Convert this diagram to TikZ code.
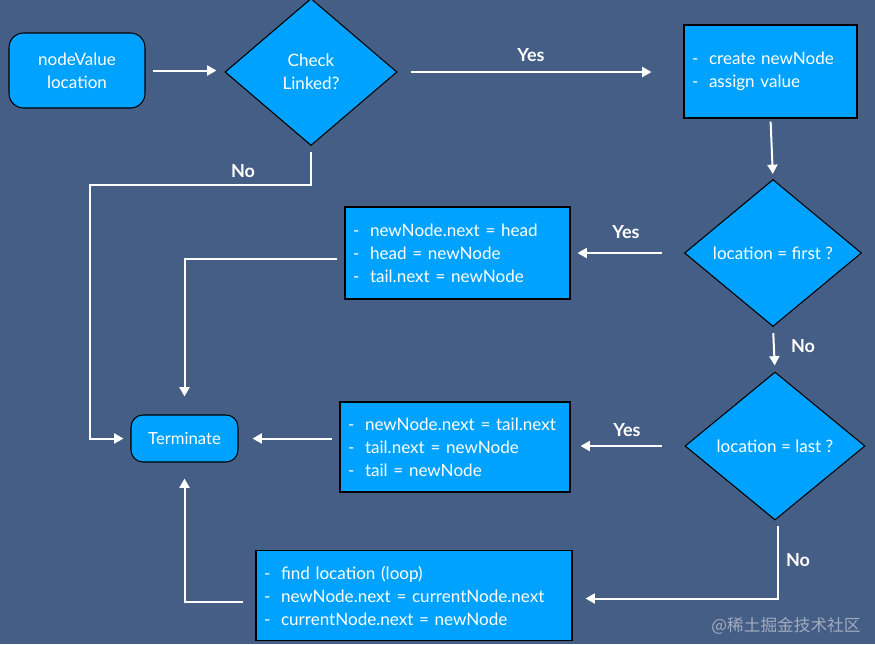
\documentclass[tikz,border=0pt]{standalone}
\usepackage{fontspec}
\setmainfont{Lato}
\newfontfamily\cjk{Noto Sans CJK SC}
\usetikzlibrary{shapes.geometric,arrows.meta}
\definecolor{bg}{RGB}{69,94,134}
\definecolor{boxblue}{RGB}{0,162,255}
\definecolor{wm}{RGB}{160,172,190}
\newcommand{\itm}{\makebox[12.75pt][l]{-}}
\begin{document}
\begin{tikzpicture}[x=0.75pt,y=-0.75pt,
  txt/.style={text=white,font=\fontsize{12.8}{17.25}\selectfont},
  startbox/.style={txt,draw=black,line width=0.8pt,fill=boxblue,rounded corners=11pt,align=center,inner sep=0pt},
  dec/.style={txt,diamond,draw=black,line width=0.8pt,fill=boxblue,align=center,inner sep=0pt},
  proc/.style={txt,rectangle,draw=black,line width=0.8pt,fill=boxblue,align=left,inner xsep=6pt,inner ysep=0pt},
  conn/.style={draw=white,line width=1.5pt,-{Triangle[length=7pt,width=7.5pt]}},
  lbl/.style={text=white,font=\bfseries\fontsize{13.5}{15}\selectfont}]
\fill[bg] (0,0) rectangle (875,644);
\useasboundingbox (0,0) rectangle (875,644);

\node[startbox,minimum width=102pt,minimum height=56.25pt] (start) at (77,70.5) {nodeValue\\location};
\node[dec,minimum width=129pt,minimum height=110.25pt] (check) at (311,72) {Check\\Linked?};
\node[proc,text width=117.75pt,minimum height=69.75pt] (b1) at (770.5,71.5) {\itm create newNode\\\itm assign value\\[2pt]};
\node[dec,minimum width=132.75pt,minimum height=110.25pt] (d2) at (773,253) {location = first ?};
\node[proc,text width=156.75pt,minimum height=69pt] (b2) at (457.5,253) {\itm newNode.next = head\\\itm head = newNode\\\itm tail.next = newNode};
\node[dec,minimum width=135pt,minimum height=111pt] (d3) at (775,446) {location = last ?};
\node[proc,text width=160.5pt,minimum height=67.5pt] (b3) at (455,447) {\itm newNode.next = tail.next\\\itm tail.next = newNode\\\itm tail = newNode};
\node[startbox,rounded corners=9pt,minimum width=80.25pt,minimum height=35.25pt,font=\fontsize{12.5}{14}\selectfont] (term) at (184.5,438.5) {Terminate};
\node[proc,text width=225pt,minimum height=67.5pt] (b4) at (414,595.5) {\itm find location (loop)\\\itm newNode.next = currentNode.next\\\itm currentNode.next = newNode};

\coordinate (nob) at (90,185);

\draw[conn,shorten <=5.25pt,shorten >=6pt] (start.east) -- (check.west |- start.east);
\draw[conn,shorten <=9.75pt,shorten >=24pt] (check.east) -- (b1.west |- check.east);
\draw[conn,shorten <=2.25pt,shorten >=3.75pt] (b1.south) -- (d2.north);
\draw[conn,shorten <=16.5pt,shorten >=5.25pt] (d2.west) -- (b2.east);
\draw[conn,shorten <=5.25pt,shorten >=13.5pt] ([yshift=-4.5pt]b2.west) -| (term.north);
\draw[conn,shorten <=4.5pt,shorten >=4.5pt] (d2.south) -- (d3.north);
\draw[conn,shorten <=17pt,shorten >=7.5pt] (d3.west) -- (d3.west -| b3.east);
\draw[conn,shorten <=5.25pt,shorten >=10.5pt] (term.east -| b3.west) -- (term.east);
\draw[conn,shorten <=4.5pt,shorten >=5.25pt] (check.south) |- (nob) |- (term.west);
\draw[conn,shorten <=3.75pt,shorten >=9.75pt] ([xshift=2.25pt]d3.south) |- ([yshift=-2.25pt]b4.east);
\draw[conn,shorten <=9pt,shorten >=12pt] ([yshift=-4.5pt]b4.west) -| (term.south);

\node[lbl] (l1) at (531,55) {Yes};
\node[lbl] (l2) at (243,171) {No};
\node[lbl] (l3) at (626,232) {Yes};
\node[lbl] (l4) at (803,346) {No};
\node[lbl] (l5) at (627,430) {Yes};
\node[lbl] (l6) at (798,560) {No};
\node[text=wm,font=\cjk\fontsize{12.5}{14}\selectfont] (wmk) at (786,626) {@稀土掘金技术社区};
\end{tikzpicture}
\end{document}
